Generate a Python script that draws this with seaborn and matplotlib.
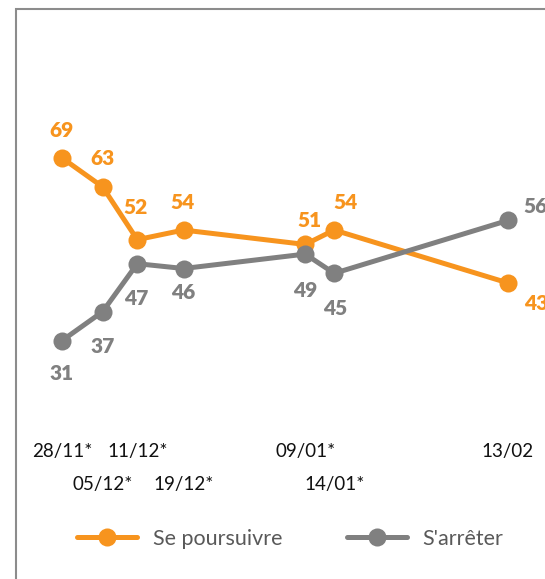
import pandas as pd
import numpy as np
import seaborn as sns
import matplotlib.pyplot as plt
import matplotlib.dates as mdates
from matplotlib.patches import Rectangle

# Poll dates and values
dates = ['2023-11-28', '2023-12-05', '2023-12-11', '2023-12-19',
         '2024-01-09', '2024-01-14', '2024-02-13']
tick_labels = ['28/11*', '05/12*', '11/12*', '19/12*', '09/01*', '14/01*', '13/02']
poursuivre = [69, 63, 52, 54, 51, 54, 43]
arreter = [31, 37, 47, 46, 49, 45, 56]
series_names = ['Se poursuivre', "S'arrêter"]

ORANGE = '#F7941E'
GRAY = '#808080'

df = pd.DataFrame({'date': pd.to_datetime(dates),
                   series_names[0]: poursuivre,
                   series_names[1]: arreter})
long = df.melt(id_vars='date', var_name='serie', value_name='pct')

sns.set_style('white')
plt.rcParams['font.family'] = ['Lato', 'DejaVu Sans']

W, H = 545, 579
fig = plt.figure(figsize=(W / 100, H / 100), dpi=100)

# outer frame (cut off right/bottom like the reference)
fig.patches.append(Rectangle((16 / W, -0.1), 1.2, (H - 9) / H + 0.1,
                             transform=fig.transFigure, fill=False,
                             edgecolor='#8c8c8c', linewidth=1.5))

ax = fig.add_axes([20 / W, (H - 432) / H, 525 / W, 402 / H])
sns.lineplot(data=long, x='date', y='pct', hue='serie',
             palette=[ORANGE, GRAY], marker='o', markersize=13,
             markeredgewidth=0, linewidth=3.6, ax=ax, legend=False)

d0 = mdates.date2num(pd.Timestamp(dates[0]))
ax.set_xlim(d0 - 7.25, d0 + 83.4)
ax.set_ylim(12.0, 95.6)
for s in ax.spines.values():
    s.set_visible(False)
ax.set_yticks([])
ax.set_xlabel('')
ax.set_ylabel('')

# staggered date labels: majors on first row, minors on second
xnum = mdates.date2num(df['date'])
ax.set_xticks(xnum[0::2])
ax.set_xticklabels(tick_labels[0::2])
ax.set_xticks(xnum[1::2], minor=True)
ax.set_xticklabels(tick_labels[1::2], minor=True)
ax.tick_params(axis='x', which='major', length=0, pad=8, labelsize=13.5, labelcolor='#111111')
ax.tick_params(axis='x', which='minor', length=0, pad=32, labelsize=13.5, labelcolor='#111111')

# data labels (offsets in points)
off_p = [(0, 20), (0, 20), (-1, 23), (-1, 20), (3, 17), (8, 20), (20, -15)]
off_a = [(0, -24), (0, -25), (-1, -25), (0, -17), (0, -26), (1, -25), (20, 10)]
for i in range(len(dates)):
    ax.annotate(str(poursuivre[i]), (xnum[i], poursuivre[i]), xytext=off_p[i],
                textcoords='offset points', ha='center', va='center',
                fontsize=15, fontweight='heavy', color=ORANGE)
    ax.annotate(str(arreter[i]), (xnum[i], arreter[i]), xytext=off_a[i],
                textcoords='offset points', ha='center', va='center',
                fontsize=15, fontweight='heavy', color=GRAY)

handles = [plt.Line2D([], [], color=c, lw=3.6, marker='o', markersize=13, markeredgewidth=0)
           for c in [ORANGE, GRAY]]
leg = fig.legend(handles, series_names, loc='center', bbox_to_anchor=(290 / W, 1 - 539 / H),
                 ncol=2, frameon=False, fontsize=15.5, handlelength=2.8,
                 columnspacing=3.0, handletextpad=0.7)
for t in leg.get_texts():
    t.set_color('#595959')

plt.savefig('out.png', dpi=100)
